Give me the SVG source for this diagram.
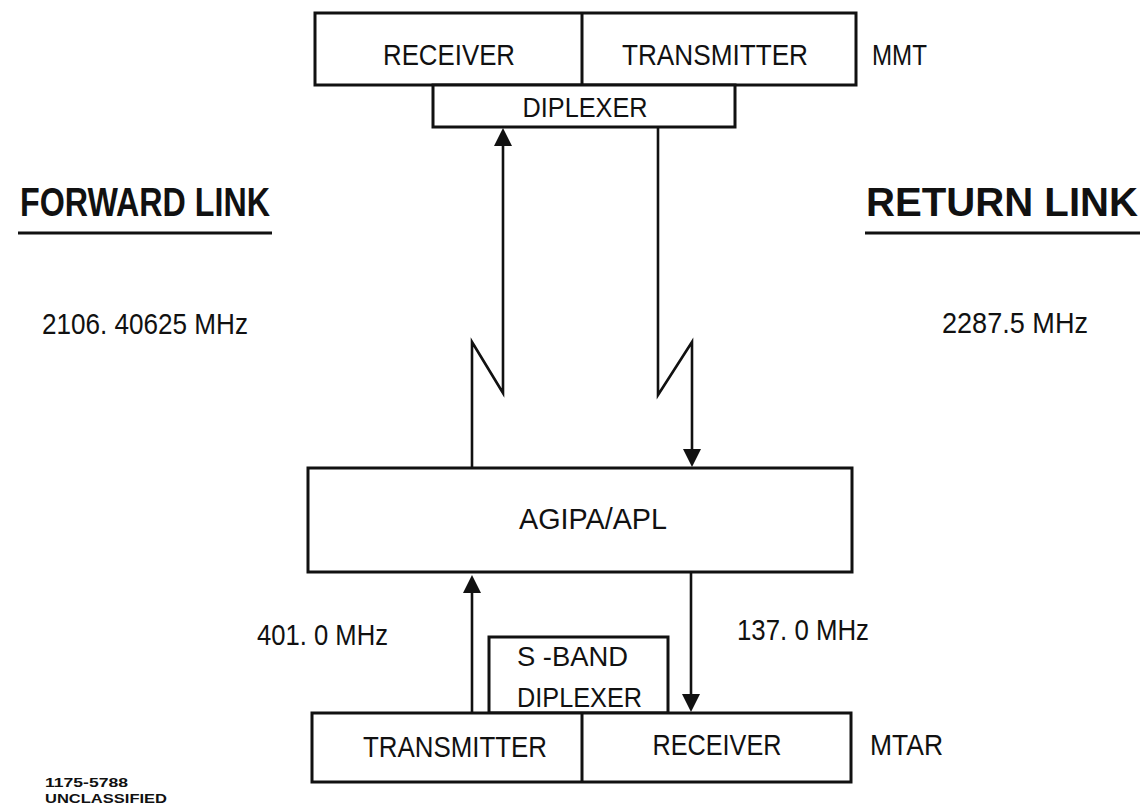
<svg xmlns="http://www.w3.org/2000/svg" width="1144" height="806" viewBox="0 0 1144 806">
<style>
.box{fill:#fff;stroke:#111;stroke-width:3}
.ln{fill:none;stroke:#111;stroke-width:2.6;stroke-linejoin:miter}
.t{font-family:"Liberation Sans",Arial,sans-serif;font-size:30px;fill:#111}
.s{font-size:28px}
.h{font-family:"Liberation Sans",Arial,sans-serif;font-size:40px;font-weight:bold;fill:#111}
.f{font-family:"Liberation Sans",Arial,sans-serif;font-weight:bold;fill:#111}
.ul{stroke:#111;stroke-width:3}
</style>
<defs>
<marker id="ah" markerUnits="userSpaceOnUse" markerWidth="18" markerHeight="18" refX="14" refY="9" orient="auto">
<path d="M0,0 L18,9 L0,18 Z" fill="#111"/>
</marker>
</defs>
<rect width="1144" height="806" fill="#fff"/>
<g id="connectors">
<path class="ln" d="M472,468 L472,342 L503,393 L503,132" marker-end="url(#ah)"/>
<path class="ln" d="M658,127 L658,395 L692,342 L692,463" marker-end="url(#ah)"/>
<path class="ln" d="M472,713 L472,579" marker-end="url(#ah)"/>
<path class="ln" d="M691,572 L691,708" marker-end="url(#ah)"/>
</g>
<g id="mmt">
<rect class="box" x="315" y="13" width="541" height="72"/>
<line class="ln" x1="582" y1="13" x2="582" y2="85" style="stroke-width:3"/>
<text class="t" x="449" y="65" text-anchor="middle" textLength="132" lengthAdjust="spacingAndGlyphs">RECEIVER</text>
<text class="t" x="715" y="65" text-anchor="middle" textLength="186" lengthAdjust="spacingAndGlyphs">TRANSMITTER</text>
<text class="t" x="872" y="65" textLength="55" lengthAdjust="spacingAndGlyphs">MMT</text>
</g>
<g id="mmt-diplexer">
<rect class="box" x="433" y="85" width="302" height="42"/>
<text class="t s" x="585" y="117" text-anchor="middle" textLength="125" lengthAdjust="spacingAndGlyphs">DIPLEXER</text>
</g>
<g id="forward-link">
<text class="h" x="20" y="216" textLength="250" lengthAdjust="spacingAndGlyphs">FORWARD LINK</text>
<line class="ul" x1="18" y1="233" x2="272" y2="233"/>
<text class="t" x="42" y="334" textLength="206" lengthAdjust="spacingAndGlyphs">2106. 40625 MHz</text>
</g>
<g id="return-link">
<text class="h" x="866" y="216" textLength="272" lengthAdjust="spacingAndGlyphs">RETURN LINK</text>
<line class="ul" x1="865" y1="233" x2="1140" y2="233"/>
<text class="t" x="942" y="333" textLength="146" lengthAdjust="spacingAndGlyphs">2287.5 MHz</text>
</g>
<g id="agipa">
<rect class="box" x="308" y="468" width="544" height="104"/>
<text class="t" x="593" y="529" text-anchor="middle" textLength="148" lengthAdjust="spacingAndGlyphs">AGIPA/APL</text>
</g>
<g id="freq-labels">
<text class="t" x="257" y="645" textLength="131" lengthAdjust="spacingAndGlyphs">401. 0 MHz</text>
<text class="t" x="737" y="640" textLength="132" lengthAdjust="spacingAndGlyphs">137. 0 MHz</text>
</g>
<g id="sband-diplexer">
<rect class="box" x="489" y="637" width="179" height="76"/>
<text class="t s" x="517" y="666" textLength="111" lengthAdjust="spacingAndGlyphs">S -BAND</text>
<text class="t s" x="517" y="707" textLength="125" lengthAdjust="spacingAndGlyphs">DIPLEXER</text>
</g>
<g id="mtar">
<rect class="box" x="312" y="713" width="539" height="69"/>
<line class="ln" x1="582" y1="713" x2="582" y2="782" style="stroke-width:3"/>
<text class="t" x="455" y="757" text-anchor="middle" textLength="184" lengthAdjust="spacingAndGlyphs">TRANSMITTER</text>
<text class="t" x="717" y="755" text-anchor="middle" textLength="129" lengthAdjust="spacingAndGlyphs">RECEIVER</text>
<text class="t" x="870" y="755" textLength="73" lengthAdjust="spacingAndGlyphs">MTAR</text>
</g>
<g id="footer">
<text class="f" x="45" y="787" font-size="12" textLength="83" lengthAdjust="spacingAndGlyphs">1175-5788</text>
<text class="f" x="45" y="803" font-size="13" textLength="122" lengthAdjust="spacingAndGlyphs">UNCLASSIFIED</text>
</g>
</svg>
